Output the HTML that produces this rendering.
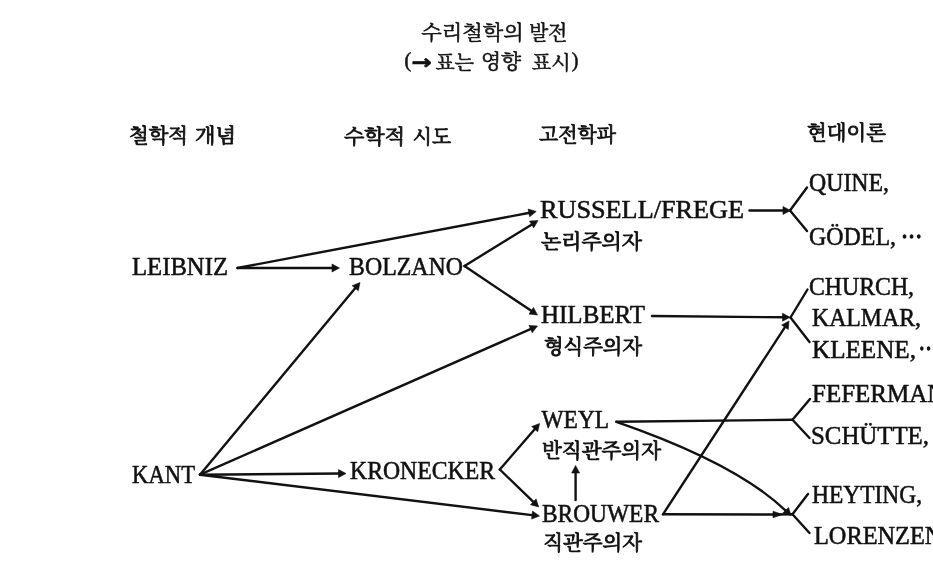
<!DOCTYPE html>
<html lang="ko"><head><meta charset="utf-8"><title>수리철학의 발전</title>
<style>
html,body{margin:0;padding:0;background:#fff;}
svg{display:block;filter:grayscale(1)}
text{fill:#111;stroke:#111;stroke-linejoin:round}
.lat{font-family:"Liberation Serif", "Noto Serif CJK SC", serif;font-weight:400;stroke-width:.55px}
.dots{stroke-width:1.5px}
.kor{font-family:"Liberation Serif", "Noto Serif CJK SC", "Noto Sans CJK KR", "NanumGothic", serif;font-weight:400;stroke-width:.9px}
.kor.t{stroke-width:.55px}
.kor.h{stroke-width:.85px}
.ar{font-family:"DejaVu Sans","Liberation Serif",sans-serif;font-weight:700;stroke-width:0}
line,path{stroke:#111;stroke-linecap:round}
polygon{fill:#111;stroke:#111;stroke-width:.6;stroke-linejoin:round}
</style></head><body>
<svg width="933" height="564" viewBox="0 0 933 564">
<rect width="933" height="564" fill="#fff"/>
<text id="t1a" class="kor t" x="421.20" y="39.65" font-size="20" textLength="102.60" lengthAdjust="spacingAndGlyphs">수리철학의</text>
<text id="t1b" class="kor t" x="529.20" y="40.15" font-size="20" textLength="38.00" lengthAdjust="spacingAndGlyphs">발전</text>
<text id="t2a" class="kor t" x="404.40" y="66.70" font-size="20">(</text>
<text id="t2b" class="kor t ar" x="411.60" y="68.95" font-size="20" textLength="20.40" lengthAdjust="spacingAndGlyphs">→</text>
<text id="t2c" class="kor t" x="435.60" y="69.75" font-size="20" textLength="38.40" lengthAdjust="spacingAndGlyphs">표는</text>
<text id="t2d" class="kor t" x="481.00" y="68.75" font-size="20" textLength="40.20" lengthAdjust="spacingAndGlyphs">영향</text>
<text id="t2e" class="kor t" x="531.80" y="69.75" font-size="20" textLength="38.80" lengthAdjust="spacingAndGlyphs">표시</text>
<text id="t2f" class="kor t" x="571.80" y="67.20" font-size="20">)</text>
<text id="h1a" class="kor h" x="129.00" y="142.70" font-size="20" textLength="59.00" lengthAdjust="spacingAndGlyphs">철학적</text>
<text id="h1b" class="kor h" x="195.00" y="142.70" font-size="20" textLength="41.00" lengthAdjust="spacingAndGlyphs">개념</text>
<text id="h2a" class="kor h" x="344.00" y="143.70" font-size="20" textLength="61.00" lengthAdjust="spacingAndGlyphs">수학적</text>
<text id="h2b" class="kor h" x="412.80" y="143.70" font-size="20" textLength="38.20" lengthAdjust="spacingAndGlyphs">시도</text>
<text id="h3" class="kor h" x="539.00" y="142.45" font-size="20" textLength="77.00" lengthAdjust="spacingAndGlyphs">고전학파</text>
<text id="h4" class="kor h" x="807.00" y="140.45" font-size="20" textLength="79.00" lengthAdjust="spacingAndGlyphs">현대이론</text>
<text id="leibniz" class="lat " x="132.00" y="274.75" font-size="25" textLength="96.00" lengthAdjust="spacingAndGlyphs">LEIBNIZ</text>
<text id="bolzano" class="lat " x="349.00" y="274.75" font-size="25" textLength="114.00" lengthAdjust="spacingAndGlyphs">BOLZANO</text>
<text id="russell" class="lat " x="540.00" y="218.25" font-size="25" textLength="204.00" lengthAdjust="spacingAndGlyphs">RUSSELL/FREGE</text>
<text id="hilbert" class="lat " x="541.00" y="323.00" font-size="25" textLength="104.00" lengthAdjust="spacingAndGlyphs">HILBERT</text>
<text id="weyl" class="lat " x="541.60" y="428.00" font-size="25" textLength="67.40" lengthAdjust="spacingAndGlyphs">WEYL</text>
<text id="brouwer" class="lat " x="542.00" y="521.90" font-size="25" textLength="117.00" lengthAdjust="spacingAndGlyphs">BROUWER</text>
<text id="kant" class="lat " x="132.00" y="482.75" font-size="25" textLength="63.00" lengthAdjust="spacingAndGlyphs">KANT</text>
<text id="kronecker" class="lat " x="350.00" y="479.00" font-size="25" textLength="145.00" lengthAdjust="spacingAndGlyphs">KRONECKER</text>
<text id="quine" class="lat " x="809.00" y="191.00" font-size="25" textLength="80.00" lengthAdjust="spacingAndGlyphs">QUINE,</text>
<text id="godel" class="lat " x="809.00" y="244.50" font-size="25" textLength="87.00" lengthAdjust="spacingAndGlyphs">GÖDEL,</text>
<text id="dots1" class="lat dots" x="901.00" y="244.80" font-size="25" textLength="21.20" lengthAdjust="spacingAndGlyphs">···</text>
<text id="church" class="lat " x="809.00" y="294.50" font-size="25" textLength="105.00" lengthAdjust="spacingAndGlyphs">CHURCH,</text>
<text id="kalmar" class="lat " x="812.00" y="325.50" font-size="25" textLength="109.00" lengthAdjust="spacingAndGlyphs">KALMAR,</text>
<text id="kleene" class="lat " x="812.00" y="357.50" font-size="25" textLength="104.00" lengthAdjust="spacingAndGlyphs">KLEENE,</text>
<text id="dots2" class="lat dots" x="918.60" y="357.40" font-size="25" textLength="19.80" lengthAdjust="spacingAndGlyphs">···</text>
<text id="feferman" class="lat " x="812.00" y="401.75" font-size="25" textLength="139.50" lengthAdjust="spacingAndGlyphs">FEFERMAN,</text>
<text id="schutte" class="lat " x="811.00" y="444.00" font-size="25" textLength="118.00" lengthAdjust="spacingAndGlyphs">SCHÜTTE,</text>
<text id="heyting" class="lat " x="812.00" y="502.50" font-size="25" textLength="110.00" lengthAdjust="spacingAndGlyphs">HEYTING,</text>
<text id="lorenzen" class="lat " x="814.00" y="544.00" font-size="25" textLength="134.50" lengthAdjust="spacingAndGlyphs">LORENZEN,</text>
<text id="k1" class="kor " x="541.00" y="249.45" font-size="20" textLength="101.00" lengthAdjust="spacingAndGlyphs">논리주의자</text>
<text id="k2" class="kor " x="544.00" y="353.70" font-size="20" textLength="98.00" lengthAdjust="spacingAndGlyphs">형식주의자</text>
<text id="k3" class="kor " x="542.00" y="458.30" font-size="20" textLength="119.00" lengthAdjust="spacingAndGlyphs">반직관주의자</text>
<text id="k4" class="kor " x="543.20" y="550.25" font-size="20" textLength="98.80" lengthAdjust="spacingAndGlyphs">직관주의자</text>
<g id="lines">
<line x1="237.5" y1="268.0" x2="334.2" y2="268.0" stroke-width="2.4"/>
<polygon points="339.5,268.0 332.0,272.0 332.0,264.0"/>
<line x1="237.5" y1="268.0" x2="531.0" y2="212.5" stroke-width="2.4"/>
<polygon points="536.2,211.5 529.6,216.8 528.1,209.0"/>
<line x1="464.5" y1="266.0" x2="533.5" y2="223.4" stroke-width="2.4"/>
<polygon points="538.0,220.6 533.7,227.9 529.5,221.1"/>
<line x1="464.5" y1="266.0" x2="533.1" y2="312.1" stroke-width="2.4"/>
<polygon points="537.5,315.0 529.0,314.1 533.5,307.5"/>
<line x1="200.0" y1="474.7" x2="356.6" y2="286.5" stroke-width="2.4"/>
<polygon points="360.0,282.5 358.3,290.8 352.1,285.7"/>
<line x1="200.0" y1="474.7" x2="532.7" y2="328.1" stroke-width="2.4"/>
<polygon points="537.5,326.0 532.2,332.7 529.0,325.4"/>
<line x1="200.0" y1="474.7" x2="340.8" y2="473.5" stroke-width="2.4"/>
<polygon points="346.0,473.5 338.5,477.6 338.5,469.6"/>
<line x1="200.0" y1="474.7" x2="534.3" y2="515.4" stroke-width="2.4"/>
<polygon points="539.5,516.0 531.6,519.1 532.5,511.1"/>
<line x1="499.8" y1="469.5" x2="536.2" y2="427.5" stroke-width="2.4"/>
<polygon points="539.6,423.5 537.7,431.8 531.7,426.6"/>
<line x1="499.8" y1="469.5" x2="534.9" y2="503.4" stroke-width="2.4"/>
<polygon points="538.7,507.0 530.5,504.7 536.1,498.9"/>
<line x1="575.6" y1="500.0" x2="575.6" y2="470.8" stroke-width="2.4"/>
<polygon points="575.6,465.5 579.6,473.0 571.6,473.0"/>
<line x1="749.5" y1="210.5" x2="785.2" y2="210.5" stroke-width="2.4"/>
<polygon points="790.5,210.5 783.0,214.5 783.0,206.5"/>
<line x1="790.0" y1="210.5" x2="807.0" y2="187.5" stroke-width="2.4"/>
<line x1="790.0" y1="210.5" x2="807.0" y2="231.0" stroke-width="2.4"/>
<line x1="652.0" y1="316.0" x2="784.8" y2="317.3" stroke-width="2.4"/>
<polygon points="790.0,317.3 782.5,321.2 782.5,313.2"/>
<line x1="790.5" y1="317.5" x2="807.5" y2="289.5" stroke-width="2.4"/>
<line x1="790.5" y1="317.5" x2="809.5" y2="342.0" stroke-width="2.4"/>
<line x1="663.0" y1="514.3" x2="786.1" y2="325.4" stroke-width="2.4"/>
<polygon points="789.0,321.0 788.3,329.5 781.6,325.1"/>
<line x1="616.4" y1="421.8" x2="792.5" y2="419.8" stroke-width="2.4"/>
<line x1="792.5" y1="419.8" x2="810.0" y2="399.0" stroke-width="2.4"/>
<line x1="792.5" y1="419.8" x2="809.5" y2="438.0" stroke-width="2.4"/>
<line x1="663.0" y1="514.3" x2="775.9" y2="514.5" stroke-width="2.4"/>
<polygon points="782.5,514.5 773.0,517.7 773.0,511.2"/>
<line x1="775.0" y1="514.5" x2="792.5" y2="514.2" stroke-width="2.4"/>
<line x1="792.5" y1="514.2" x2="808.0" y2="494.0" stroke-width="2.4"/>
<line x1="792.5" y1="514.2" x2="809.5" y2="533.0" stroke-width="2.4"/>
<path d="M616.4,421.8 Q 737,463.5 786,511" fill="none" stroke-width="2.4"/>
<polygon points="791.0,515.5 782.9,513.0 788.5,507.4"/>
</g>
</svg>
</body></html>
